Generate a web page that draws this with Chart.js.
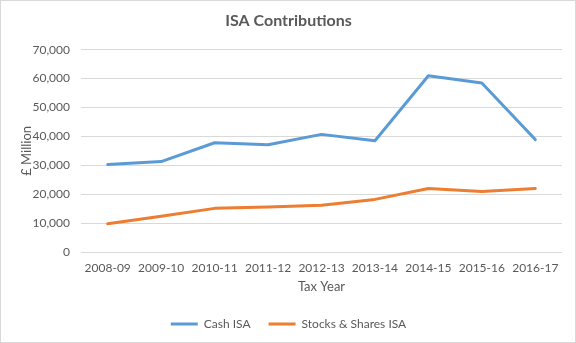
<!DOCTYPE html>
<html>
<head>
<meta charset="utf-8">
<script src="https://cdn.jsdelivr.net/npm/chart.js@4"></script>
<style>
  html, body { margin: 0; padding: 0; background: #fff; }
  #wrap { width: 576px; height: 343px; }
</style>
</head>
<body>
<div id="wrap"><canvas id="grafico"></canvas></div>
<script>
// Datos (£ millones)
const taxYears = ["2008-09", "2009-10", "2010-11", "2011-12", "2012-13", "2013-14", "2014-15", "2015-16", "2016-17"];
const cashIsa = [30300, 31300, 37800, 37100, 40700, 38500, 61000, 58500, 38900];
const stocksIsa = [9800, 12400, 15100, 15600, 16200, 18200, 22000, 20900, 22000];
const yTicks = [0, 10000, 20000, 30000, 40000, 50000, 60000, 70000];

const FONT = "Lato, 'Liberation Sans', sans-serif";
const GRIS = "#595959";

// borde gris alrededor del gráfico
const bordePlugin = {
  id: "borde",
  beforeDraw(chart) {
    const ctx = chart.ctx;
    ctx.save();
    ctx.fillStyle = "#fff";
    ctx.fillRect(0, 0, chart.width, chart.height);
    ctx.restore();
  },
  afterDraw(chart) {
    const ctx = chart.ctx;
    ctx.save();
    ctx.strokeStyle = "#d9d9d9";
    ctx.lineWidth = 1;
    ctx.strokeRect(0.5, 0.5, chart.width - 1, chart.height - 1);
    ctx.restore();
  }
};

const ctx = document.getElementById("grafico").getContext("2d");
new Chart(ctx, {
  type: "line",
  data: {
    labels: taxYears,
    datasets: [
      {
        label: "Cash ISA",
        data: cashIsa,
        borderColor: "#5b9bd5",
        backgroundColor: "#5b9bd5",
        borderWidth: 3,
        pointRadius: 0,
        tension: 0,
        borderJoinStyle: "round",
        borderCapStyle: "round"
      },
      {
        label: "Stocks & Shares ISA",
        data: stocksIsa,
        borderColor: "#ed7d31",
        backgroundColor: "#ed7d31",
        borderWidth: 3,
        pointRadius: 0,
        tension: 0,
        borderJoinStyle: "round",
        borderCapStyle: "round"
      }
    ]
  },
  options: {
    responsive: true,
    maintainAspectRatio: false,
    animation: false,
    locale: "en-GB",
    layout: { padding: { left: 15, right: 14, top: 8, bottom: 3 } },
    plugins: {
      title: {
        display: true,
        text: "ISA Contributions",
        color: GRIS,
        font: { family: FONT, size: 16, weight: "bold" },
        padding: { top: 3.5, bottom: 19 }
      },
      legend: {
        position: "bottom",
        labels: {
          color: GRIS,
          font: { family: FONT, size: 12 },
          usePointStyle: true,
          pointStyle: "line",
          pointStyleWidth: 27,
          padding: 18
        }
      },
      tooltip: { enabled: false }
    },
    scales: {
      x: {
        offset: true,
        grid: { display: false, drawTicks: false },
        border: { display: false },
        ticks: { color: GRIS, font: { family: FONT, size: 12 }, padding: 9, maxRotation: 0, autoSkip: false },
        title: {
          display: true,
          text: "Tax Year",
          color: GRIS,
          font: { family: FONT, size: 13 },
          padding: { top: 4, bottom: 5 }
        },
        afterFit: scale => { scale.height = 48; }
      },
      y: {
        min: 0,
        max: 70000,
        afterBuildTicks: scale => { scale.ticks = yTicks.map(v => ({ value: v })); },
        grid: { color: "#d9d9d9", lineWidth: 1, drawTicks: false },
        border: { display: false },
        ticks: { color: GRIS, font: { family: FONT, size: 12 }, padding: 11 },
        title: {
          display: true,
          text: "£ Million",
          color: GRIS,
          font: { family: FONT, size: 13 },
          padding: { top: 4, bottom: 4 }
        },
        afterFit: scale => { scale.width = 66; }
      }
    }
  },
  plugins: [bordePlugin]
});
</script>
</body>
</html>
